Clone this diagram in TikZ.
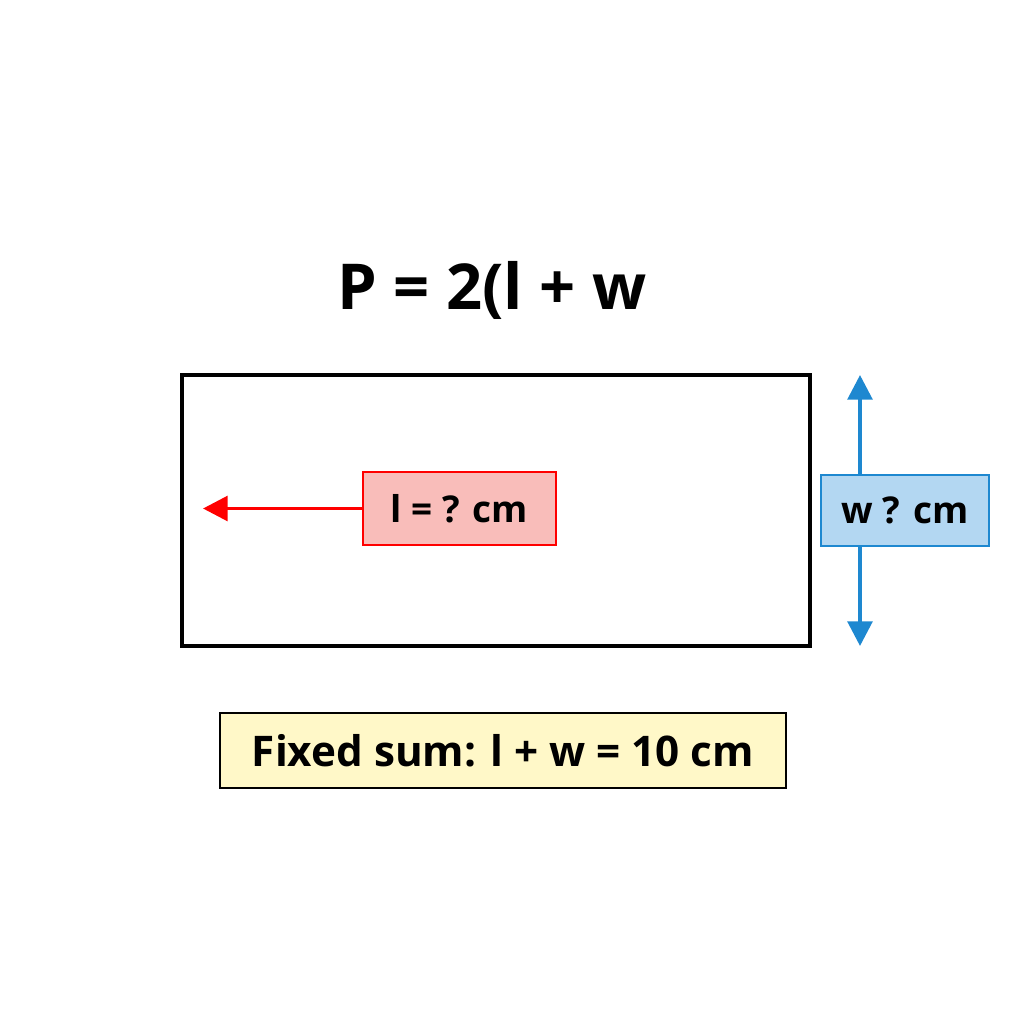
\documentclass[tikz,border=0pt]{standalone}
\usepackage{fontspec}
\setmainfont{Open Sans}
\usetikzlibrary{arrows.meta}
\definecolor{pinkf}{HTML}{F9BDBA}
\definecolor{bluef}{HTML}{B3D7F2}
\definecolor{blued}{HTML}{1E88D0}
\definecolor{yelf}{HTML}{FFF8C8}
\begin{document}
\begin{tikzpicture}[x=0.01cm,y=-0.01cm,
  lbl/.style={font=\bfseries\fontsize{10.5}{12}\selectfont, inner sep=0pt, draw, line width=0.5pt}]
\useasboundingbox (0,0) rectangle (1024,1024);
\node[font=\bfseries\fontsize{18}{21}\selectfont] (title) at (492,290) {P = 2(l + w};
\draw[line width=1.4pt] (182,375) rectangle (810,646);
\coordinate (wt) at (860,375);
\coordinate (wb) at (860,646);
\coordinate (la) at (203,508.5);
\draw[blued, line width=1.1pt, {Triangle[length=7pt,width=7pt]}-{Triangle[length=7pt,width=7pt]}] (wt) -- (wb);
\node[lbl, draw=red, fill=pinkf, minimum width=1.93cm, minimum height=0.73cm] (l) at (459.5,508.5) {l = ? cm};
\node[lbl, draw=blued, fill=bluef, minimum width=1.68cm, minimum height=0.71cm] (w) at (905,510.5) {w ? cm};
\draw[red, line width=1.1pt, -{Triangle[length=7pt,width=7pt]}] (l.west) -- (la);
\node[lbl, draw=black, fill=yelf, minimum width=5.66cm, minimum height=0.75cm, font=\bfseries\fontsize{12}{14}\selectfont] (fs) at (503,750.5) {Fixed sum: l + w = 10 cm};
\end{tikzpicture}
\end{document}
